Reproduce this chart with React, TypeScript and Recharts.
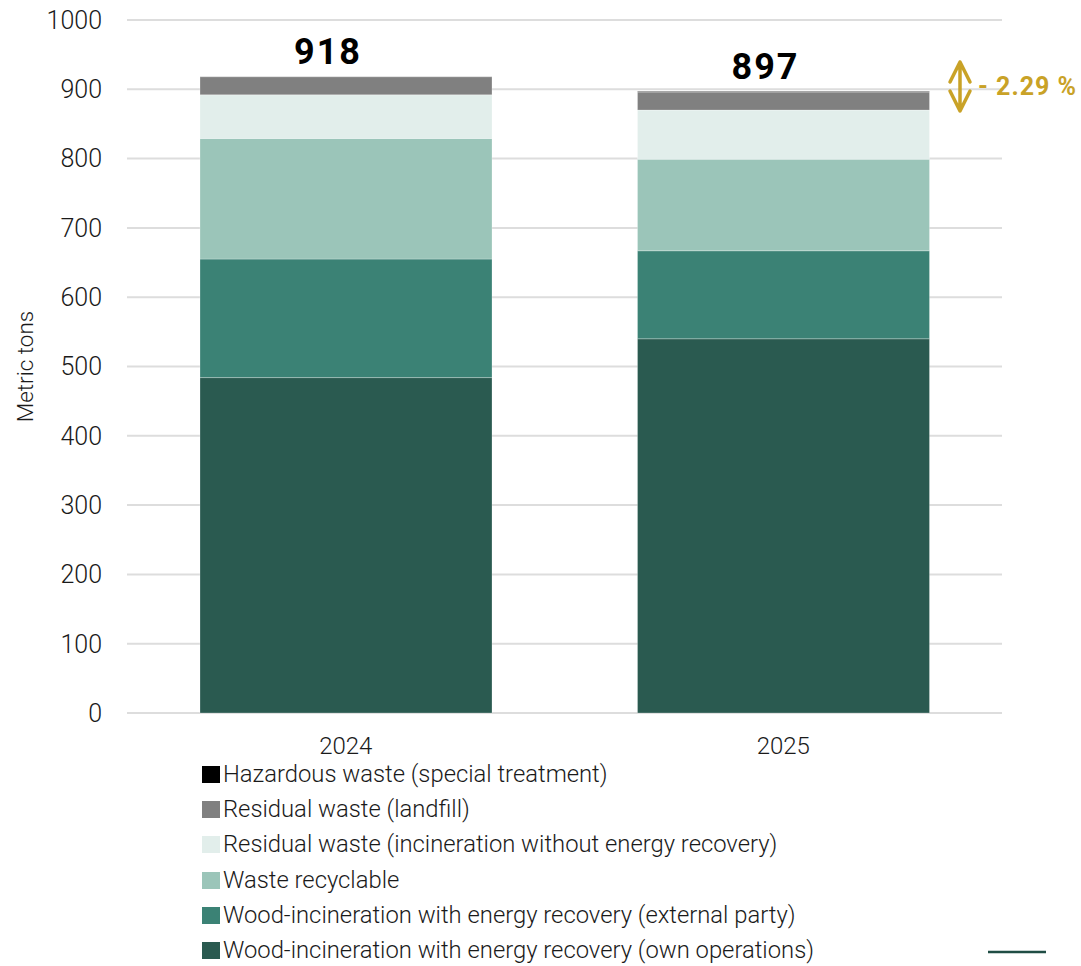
import React from 'react';
import { BarChart, Bar, XAxis, YAxis, CartesianGrid, Legend, LabelList, Customized } from 'recharts';

const years = ['2024', '2025'];
const ownOperations = [484, 540];
const externalParty = [171, 127];
const recyclable = [174, 132];
const incinerationNoRecovery = [63, 71];
const landfill = [26, 26];
const hazardous = [0, 1];
const totalLabels = ['918', '897'];
const yTicks = [0, 100, 200, 300, 400, 500, 600, 700, 800, 900, 1000];
const changeLabel = '- 2.29 %';

const series = [
  { key: 'own', name: 'Wood-incineration with energy recovery (own operations)', color: '#2a5a50', values: ownOperations },
  { key: 'ext', name: 'Wood-incineration with energy recovery (external party)', color: '#3b8275', values: externalParty },
  { key: 'rec', name: 'Waste recyclable', color: '#9bc5b9', values: recyclable },
  { key: 'inc', name: 'Residual waste (incineration without energy recovery)', color: '#e2eeeb', values: incinerationNoRecovery },
  { key: 'land', name: 'Residual waste (landfill)', color: '#808080', values: landfill },
  { key: 'haz', name: 'Hazardous waste (special treatment)', color: '#000000', values: hazardous },
];

const data = years.map((year, i) => {
  const row: Record<string, any> = { year, total: totalLabels[i] };
  series.forEach((s) => { row[s.key] = s.values[i]; });
  return row;
});

const FONT = 'Roboto, "Noto Sans", Arial, sans-serif';
const GOLD = '#c9a227';

const TotalLabel = (props: any) => {
  const { x, y, width, value } = props;
  return (
    <text
      x={x + width / 2 - 18}
      y={y - 13}
      textAnchor="middle"
      fontFamily={FONT}
      fontWeight={700}
      fontSize={36}
      letterSpacing={2}
      fill="#000"
    >
      {value}
    </text>
  );
};

const LegendContent = () => {
  const items = series.slice().reverse();
  return (
    <div style={{ height: 210, fontFamily: FONT, fontWeight: 300 }}>
      {items.map((it) => (
        <div key={it.key} style={{ height: 35.2, display: 'flex', alignItems: 'center' }}>
          <span style={{ display: 'inline-block', width: 18, height: 17, background: it.color, marginRight: 3 }} />
          <span style={{ fontSize: 23.8, color: '#1a1a1a', whiteSpace: 'nowrap', lineHeight: '35.2px' }}>{it.name}</span>
        </div>
      ))}
    </div>
  );
};

const Annotation = () => (
  <g>
    <path
      d="M950,82 L960,62 L970,82 M960,62 L960,111 M950,91 L960,111 L970,91"
      stroke={GOLD}
      strokeWidth={3.5}
      fill="none"
      strokeLinecap="round"
      strokeLinejoin="round"
    />
    <text x={978} y={95} fontFamily={FONT} fontWeight={700} fontSize={25} letterSpacing={1} fill={GOLD}>
      {changeLabel}
    </text>
    <line x1={988} y1={952} x2={1046} y2={952} stroke="#1f4d44" strokeWidth={2.5} />
  </g>
);

const YLabel = (props: any) => {
  const vb = props.viewBox || { x: 0, y: 20, width: 127, height: 693 };
  const cy = vb.y + vb.height / 2;
  return (
    <text
      x={25}
      y={cy}
      transform={`rotate(-90, 25, ${cy})`}
      textAnchor="middle"
      dominantBaseline="central"
      fontFamily={FONT}
      fontWeight={300}
      fontSize={22.5}
      fill="#1a1a1a"
    >
      Metric tons
    </text>
  );
};

export default function App() {
  return (
    <div style={{ position: 'absolute', left: 0, top: 0, width: 1081, height: 966, overflow: 'hidden', background: '#fff' }}>
      <BarChart
        width={1081}
        height={966}
        data={data}
        margin={{ top: 20, right: 79, bottom: 0, left: 0 }}
        barSize={292}
      >
        <CartesianGrid vertical={false} stroke="#dddddd" strokeWidth={2} />
        <XAxis
          dataKey="year"
          axisLine={false}
          tickLine={false}
          tickSize={0}
          tickMargin={24}
          height={43}
          tick={{ fontFamily: FONT, fontWeight: 300, fontSize: 24, fill: '#1a1a1a' }}
        />
        <YAxis
          width={127}
          domain={[0, 1000]}
          ticks={yTicks}
          axisLine={false}
          tickLine={false}
          tickSize={0}
          tickMargin={25}
          tick={{ fontFamily: FONT, fontWeight: 300, fontSize: 25, fill: '#1a1a1a' }}
          label={<YLabel />}
        />
        {series.map((s) => (
          <Bar
            key={s.key}
            dataKey={s.key}
            name={s.name}
            stackId="a"
            fill={s.color}
            stroke="rgba(255,255,255,0.25)"
            strokeWidth={1}
            isAnimationActive={false}
          >
            {s.key === 'land' ? <LabelList dataKey="total" content={<TotalLabel />} /> : null}
          </Bar>
        ))}
        <Legend
          verticalAlign="bottom"
          align="center"
          layout="horizontal"
          content={<LegendContent />}
          wrapperStyle={{ top: 757, left: 202, width: 'auto', bottom: 'auto' }}
        />
        <Customized component={<Annotation />} />
      </BarChart>
    </div>
  );
}
